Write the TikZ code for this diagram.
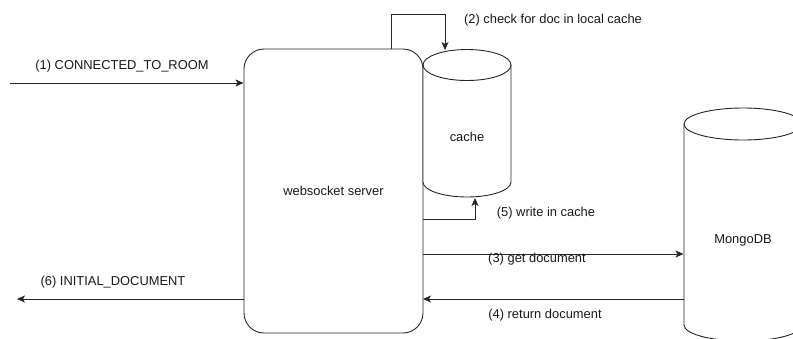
\documentclass[tikz,border=0pt]{standalone}
\usepackage{fontspec}
\setmainfont{Liberation Sans}
\usetikzlibrary{arrows.meta,calc}
\begin{document}
\begin{tikzpicture}[x=1pt,y=-1pt,
  line width=0.9pt,
  every node/.style={font=\fontsize{12.9}{15}\selectfont, text=black!90},
  arr/.style={draw=black!85, -{Stealth[length=8pt,width=7pt,inset=2pt]}},
  shp/.style={draw=black!85, line width=0.9pt},
  lbl/.style={inner sep=0pt}
]
\useasboundingbox (0,0) rectangle (793,338);
\clip (0,0) rectangle (793,338);

% websocket server
\node[shp, rounded corners=20pt, minimum width=179pt, minimum height=284pt, inner sep=0pt] (ws) at (333.5,191) {websocket server};

% cache cylinder
\draw[shp, fill=white] (423,65) -- (423,182) arc[start angle=180, end angle=360, x radius=44pt, y radius=15pt] -- (511,65);
\draw[shp] (467,65) ellipse [x radius=44pt, y radius=15.5pt];
\node[inner sep=0pt, minimum width=88pt, minimum height=100pt] (cache) at (467,137) {cache};

% MongoDB cylinder
\draw[shp, fill=white] (684,124) -- (684,325) arc[start angle=180, end angle=360, x radius=59pt, y radius=16pt] -- (802,124);
\draw[shp] (743,124) ellipse [x radius=59pt, y radius=16pt];
\node[inner sep=0pt, minimum width=118pt, minimum height=150pt] (mongo) at (743,240) {MongoDB};

% coordinates
\coordinate (in1) at (10,83);
\coordinate (out6) at (17,299);
\coordinate (cachetop) at (445,50);
\coordinate (cachebot) at (475,198);
\coordinate (w5) at (423,219);
\coordinate (w3) at (423,254);
\coordinate (w4) at (423,299);

% (1)
\draw[arr] (in1) -- (in1 -| ws.west);
\node[lbl] (l1) at (122,66) {(1) CONNECTED\_TO\_ROOM};

% (6)
\draw[arr] (out6 -| ws.west) -- (out6);
\node[lbl] (l6) at (113,282) {(6) INITIAL\_DOCUMENT};

% (2)
\draw[arr] ([xshift=57.5pt]ws.north) -- ++(0,-34) -| (cachetop);
\node[lbl] (l2) at (553,20) {(2) check for doc in local cache};

% (5)
\draw[arr] (w5) -| (cachebot);
\node[lbl] (l5) at (546,213) {(5) write in cache};

% (3)
\draw[arr] (w3) -- (w3 -| mongo.west);
\node[lbl] (l3) at (537,259) {(3) get document};

% (4)
\draw[arr] (w4 -| mongo.west) -- (w4);
\node[lbl] (l4) at (545,315) {(4) return document};
\end{tikzpicture}
\end{document}
